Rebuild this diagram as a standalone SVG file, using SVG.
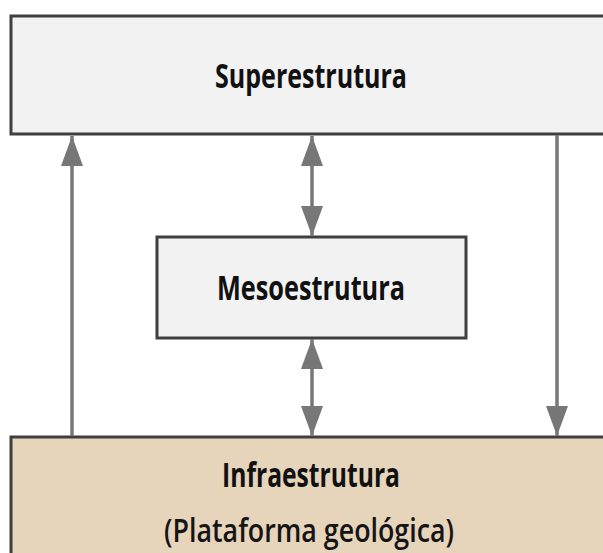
<svg xmlns="http://www.w3.org/2000/svg" width="603" height="553" viewBox="0 0 603 553">
<style>
.box{stroke:#3f3f3f;stroke-width:3}
.lbl{font-family:"Open Sans","Noto Sans","Liberation Sans",sans-serif;font-weight:bold;font-size:34px;fill:#111;text-anchor:middle}
.sub{font-family:"Open Sans","Noto Sans","Liberation Sans",sans-serif;font-weight:600;font-size:33px;fill:#151515;text-anchor:middle}
.conn{stroke:#777;stroke-width:3.5;fill:none}
</style>
<defs>
<marker id="ah" viewBox="0 0 30 22" refX="30" refY="11" markerWidth="30" markerHeight="22" markerUnits="userSpaceOnUse" orient="auto-start-reverse">
<path d="M0,0 L30,11 L0,22 Z" fill="#777"/>
</marker>
</defs>
<rect width="603" height="553" fill="#fff"/>
<g id="superestrutura">
<rect class="box" x="11" y="16" width="600" height="118" fill="#f2f2f2"/>
<text class="lbl" x="311" y="88" textLength="192" lengthAdjust="spacingAndGlyphs">Superestrutura</text>
</g>
<g id="mesoestrutura">
<rect class="box" x="157" y="237" width="309" height="101" fill="#f2f2f2"/>
<text class="lbl" x="311" y="300" textLength="188" lengthAdjust="spacingAndGlyphs">Mesoestrutura</text>
</g>
<g id="infraestrutura">
<rect class="box" x="11" y="437" width="600" height="130" fill="#e6d4bb"/>
<text class="lbl" x="311" y="487" textLength="178" lengthAdjust="spacingAndGlyphs">Infraestrutura</text>
<text class="sub" x="309" y="542" textLength="290" lengthAdjust="spacingAndGlyphs">(Plataforma geológica)</text>
</g>
<g id="connectors">
<line class="conn" x1="72" y1="436" x2="72" y2="136" marker-end="url(#ah)"/>
<line class="conn" x1="312" y1="136" x2="312" y2="236" marker-start="url(#ah)" marker-end="url(#ah)"/>
<line class="conn" x1="312" y1="339" x2="312" y2="436" marker-start="url(#ah)" marker-end="url(#ah)"/>
<line class="conn" x1="557" y1="135" x2="557" y2="436" marker-end="url(#ah)"/>
</g>
</svg>
